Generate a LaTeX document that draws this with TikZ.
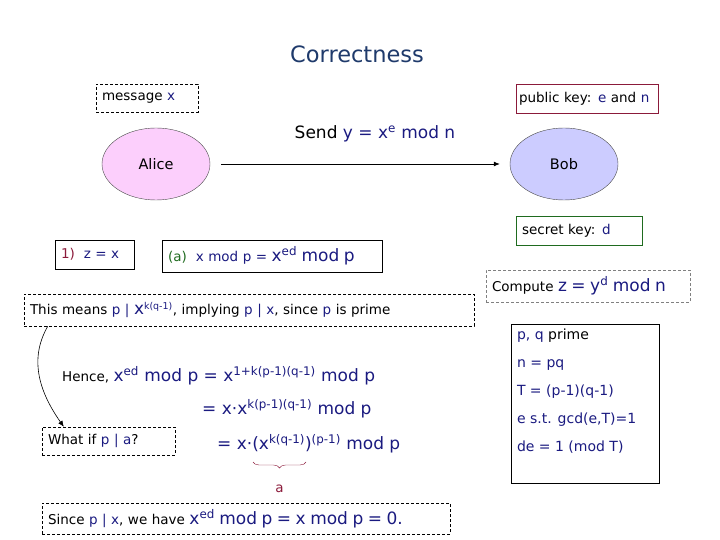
\documentclass[tikz,border=0pt]{standalone}
\usepackage{fontspec}
\setmainfont{DejaVu Sans}
\usetikzlibrary{arrows.meta,positioning,decorations.pathreplacing,shapes.geometric}
\definecolor{kek}{HTML}{1A1A80}
\definecolor{bordo}{HTML}{8B1A3A}
\definecolor{zold}{HTML}{1F6B1F}
\definecolor{cimszin}{HTML}{1F3A6B}
\definecolor{rozsa}{HTML}{FCCFFC}
\definecolor{lila}{HTML}{CCCCFF}
\newcommand{\kt}[1]{\textcolor{kek}{#1}}
\newcommand{\nagyb}{\fontsize{17}{19}\selectfont}
\newcommand{\kisb}{\fontsize{13.5}{15}\selectfont}
\tikzset{
  mezo/.style={draw,inner xsep=6pt,inner ysep=0pt,align=left,font=\kisb,
               minimum height=29pt},
  szagg/.style={mezo,dash pattern=on 3pt off 2pt},
  szemely/.style={ellipse,draw=black!70,minimum width=108pt,minimum height=72pt,
                  font=\fontsize{14.5}{16}\selectfont},
  nyil/.style={-{Latex[length=6pt,width=5pt]},thick},
  sor/.style={anchor=west,inner sep=0pt},
}
\begin{document}
\begin{tikzpicture}[x=1pt,y=-1pt]
  \useasboundingbox (0,0) rectangle (720,540);
  \node[font=\fontsize{22.5}{24}\selectfont,text=cimszin] (cim) at (357,54) {Correctness};

  % Alice es Bob
  \node[szagg,text width=90pt,minimum height=28pt] (uzenet) at (147,98) {message \kt{x}};
  \node[mezo,draw=bordo,inner xsep=3pt,text width=136pt] (nyilvanos) at (587,98.5)
       {public key: \kt{e} and \kt{n}};
  \node[szemely,fill=rozsa] (alice) at (156,164) {Alice};
  \node[szemely,fill=lila] (bob) at (564,164) {Bob};
  \draw[nyil,shorten <=11pt,shorten >=10pt] (alice.east) -- (bob.west);
  \node[font=\nagyb] (kuld) at (375,134) {Send \kt{y = x\textsuperscript{e} mod n}};

  \node[mezo,draw=zold,text width=114pt] (titkos) at (579,230.5) {secret key: \kt{d}};
  \node[szagg,draw=gray,text width=192pt,minimum height=32pt] (szamol) at (588,286)
       {Compute \kt{\nagyb z = y\textsuperscript{d} mod n}};

  \node[mezo,draw=black,minimum width=148pt,minimum height=159pt] (kellek) at (585,403.5) {};
  \node[anchor=north west,align=left,inner sep=0pt,font=\fontsize{14}{28}\selectfont,text=kek]
       (lista) at ([shift={(6,5)}]kellek.north west)
       {p, q \textcolor{black}{prime}\\ n = pq\\ T = (p-1)(q-1)\\ e s.t. gcd(e,T)=1\\ de = 1 (mod T)};

  % bizonyitas
  \node[mezo,text width=67pt] (egy) at (94.5,254.5) {\textcolor{bordo}{1)}\ \ \kt{z = x}};
  \node[mezo,text width=208pt,minimum height=32pt] (resz) at (272,256)
       {\textcolor{zold}{(a)}\ \ \kt{x mod p = {\nagyb x\textsuperscript{ed} mod\ p}}};
  \node[szagg,text width=438pt,minimum height=32pt] (jelent) at (249,310)
       {This means \kt{p | {\nagyb x}\textsuperscript{k(q-1)}}, implying \kt{p | x}, since \kt{p} is prime};

  \node[sor,font=\kisb] (ebbol) at (62,376)
       {Hence, \kt{\nagyb x\textsuperscript{ed} mod p = x\textsuperscript{1+k(p-1)(q-1)} mod p}};
  \node[sor,font=\nagyb,text=kek] (masodik) at (202,409) {= x·x\textsuperscript{k(p-1)(q-1)} mod p};
  \node[sor,font=\nagyb,text=kek] (harmadik) at (217,444) {= x·(x\textsuperscript{k(q-1)})\textsuperscript{(p-1)} mod p};

  \node[szagg,text width=121pt,minimum height=28pt] (miva) at (108.5,441) {What if \kt{p | a}?};
  \draw[nyil,semithick] ([xshift=24pt]jelent.south west) to[out=240,in=125] ([xshift=22pt]miva.north west);

  \coordinate (kapocsb) at (253,462);
  \coordinate (kapocsj) at (306,462);
  \draw[bordo,decorate,decoration={brace,mirror,amplitude=6pt}] (kapocsb) -- (kapocsj);
  \node[text=bordo,font=\kisb] (abetu) at (279.5,489) {a};

  \node[szagg,text width=396pt,minimum height=31pt] (mivel) at (246,518.5)
       {Since \kt{p | x}, we have \kt{\nagyb x\textsuperscript{ed} mod p = x mod p = 0.}};
\end{tikzpicture}
\end{document}
